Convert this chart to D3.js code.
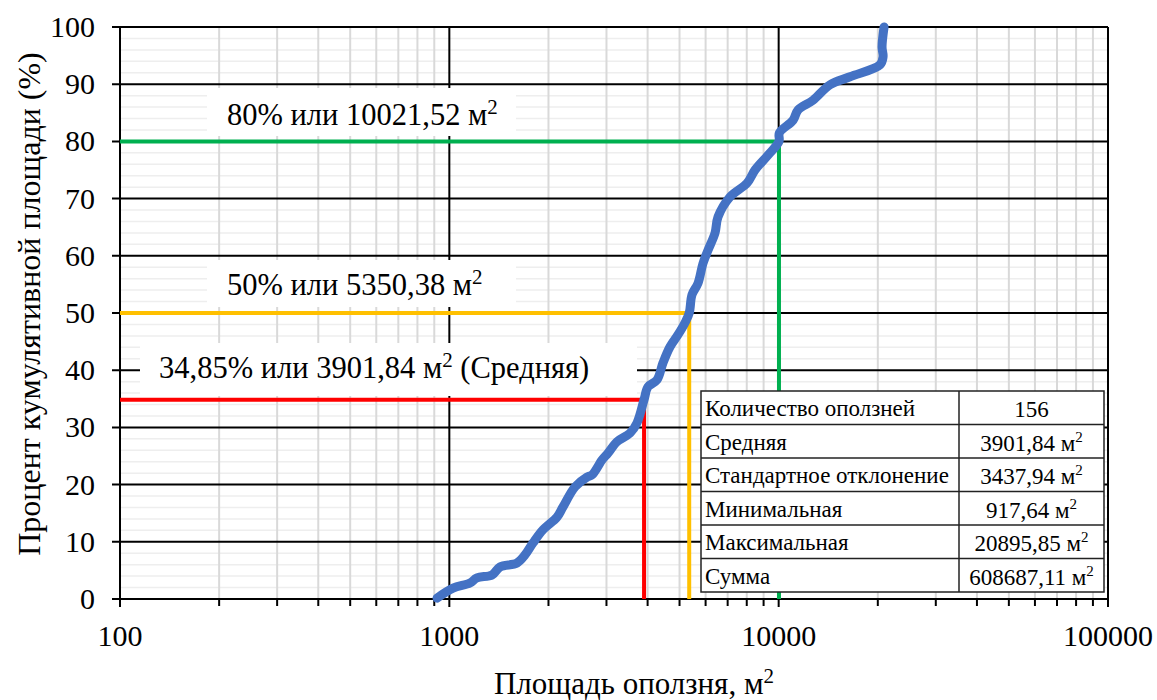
<!DOCTYPE html>
<html>
<head>
<meta charset="utf-8">
<script src="https://cdn.jsdelivr.net/npm/d3@7"></script>
<style>
  html, body { margin: 0; padding: 0; background: #fff; }
  svg { display: block; }
  text { font-family: "Liberation Serif", "Times New Roman", serif; fill: #000; }
</style>
</head>
<body>
<svg id="chart" width="1157" height="700"></svg>
<script>
// ---- Data ----
const areas = [917.64, 1026, 1155, 1213, 1348, 1425, 1605, 1697, 1795, 1925, 2123, 2214, 2408, 2618, 2712, 2908, 3032, 3229, 3537, 3715, 3901.84, 4011, 4271, 4455, 4679, 4948, 5195, 5350.38, 5456, 5690, 5893, 6103, 6408, 6544, 7117, 8015, 8475, 9282, 10021.52, 10050, 11058, 11448, 12716, 14320, 16470, 20310, 20750, 20600, 20895.85];
const cumPercent = [0.15, 1.9, 2.8, 3.7, 4.2, 5.6, 6.3, 7.7, 9.8, 12.1, 14.3, 16.1, 19.6, 21.3, 21.7, 24.3, 25.5, 27.5, 29.0, 30.8, 34.85, 37.1, 38.3, 41.3, 44.1, 46.2, 48.3, 50, 53.2, 55.2, 58.7, 61.0, 64.0, 66.8, 70.3, 72.7, 75.0, 77.6, 80, 81.5, 83.7, 85.5, 87.2, 89.9, 91.3, 93.4, 94.8, 96.5, 100];

const xTickValues = [100, 1000, 10000, 100000];
const xTickLabels = ["100", "1000", "10000", "100000"];
const yTickValues = [0, 10, 20, 30, 40, 50, 60, 70, 80, 90, 100];

const refPercent = [80, 50, 34.85];
const refArea = [10021.52, 5350.38, 3901.84];
const refColors = ["#00b050", "#ffc000", "#ff0000"];
const refLabelMain = ["80% или 10021,52 м", "50% или 5350,38 м", "34,85% или 3901,84 м"];
const refLabelTail = ["", "", " (Средняя)"];

const tableLabels = ["Количество оползней", "Средняя", "Стандартное отклонение", "Минимальная", "Максимальная", "Сумма"];
const tableValues = ["156", "3901,84 м", "3437,94 м", "917,64 м", "20895,85 м", "608687,11 м"];
const tableSup = [false, true, true, true, true, true];

const xTitle = "Площадь оползня, м";
const yTitle = "Процент кумулятивной площади (%)";

// ---- Layout ----
const svg = d3.select("#chart");
const L = 120, R = 1108, T = 27, B = 599;
const x = d3.scaleLog().domain([100, 100000]).range([L, R]);
const y = d3.scaleLinear().domain([0, 100]).range([B, T]);

// minor values
const minorX = [];
[100, 1000, 10000].forEach(d => { for (let k = 2; k <= 9; k++) minorX.push(d * k); });
const minorY = d3.range(0, 101, 2).filter(v => v % 10 !== 0);

const grid = svg.append("g");
grid.selectAll(".hmin").data(minorY).join("line")
  .attr("x1", L).attr("x2", R).attr("y1", d => y(d)).attr("y2", d => y(d))
  .attr("stroke", "#eeeeee").attr("stroke-width", 1.5);
grid.selectAll(".vmin").data(minorX).join("line")
  .attr("x1", d => x(d)).attr("x2", d => x(d)).attr("y1", T).attr("y2", B)
  .attr("stroke", "#d9d9d9").attr("stroke-width", 2);
grid.selectAll(".hmaj").data(yTickValues).join("line")
  .attr("x1", L - 8).attr("x2", R).attr("y1", d => y(d)).attr("y2", d => y(d))
  .attr("stroke", "#000").attr("stroke-width", 2);
grid.selectAll(".vmaj").data(xTickValues).join("line")
  .attr("x1", d => x(d)).attr("x2", d => x(d)).attr("y1", T).attr("y2", B + 8)
  .attr("stroke", "#000").attr("stroke-width", 2);
grid.selectAll(".xminTick").data(minorX).join("line")
  .attr("x1", d => x(d)).attr("x2", d => x(d)).attr("y1", B).attr("y2", B + 7)
  .attr("stroke", "#000").attr("stroke-width", 2);

// axis tick labels
svg.append("g").selectAll("text").data(yTickValues).join("text")
  .attr("x", 95).attr("y", d => y(d) + 10)
  .attr("text-anchor", "end").attr("font-size", 30)
  .text(d => d);
svg.append("g").selectAll("text").data(xTickValues).join("text")
  .attr("x", d => x(d)).attr("y", 646)
  .attr("text-anchor", "middle").attr("font-size", 30)
  .text((d, i) => xTickLabels[i]);

// axis titles
const xt = svg.append("text").attr("x", 634).attr("y", 694).attr("text-anchor", "middle").attr("font-size", 31);
xt.append("tspan").text(xTitle);
xt.append("tspan").attr("dy", -11).attr("font-size", 21).text("2");

svg.append("text")
  .attr("transform", "translate(40,304) rotate(-90)")
  .attr("text-anchor", "middle").attr("font-size", 32)
  .text(yTitle);

// reference lines
refPercent.forEach((p, i) => {
  svg.append("path")
    .attr("d", `M${L},${y(p)}H${x(refArea[i])}V${B}`)
    .attr("fill", "none").attr("stroke", refColors[i]).attr("stroke-width", 4);
});

// curve
const line = d3.line().x((d, i) => x(areas[i])).y((d, i) => y(cumPercent[i])).curve(d3.curveCatmullRom.alpha(0.5));
svg.append("path").datum(areas)
  .attr("d", line)
  .attr("fill", "none").attr("stroke", "#4472c4").attr("stroke-width", 9)
  .attr("stroke-linecap", "round").attr("stroke-linejoin", "round");

// label boxes
const boxes = [
  { x0: 207, x1: 516, y0: 88, y1: 136, tx: 227, ty: 125 },
  { x0: 207, x1: 516, y0: 260, y1: 307, tx: 227, ty: 295 },
  { x0: 140, x1: 637, y0: 343, y1: 396, tx: 159, ty: 378 }
];
boxes.forEach((b, i) => {
  svg.append("rect").attr("x", b.x0).attr("y", b.y0).attr("width", b.x1 - b.x0).attr("height", b.y1 - b.y0).attr("fill", "#fff");
  const t = svg.append("text").attr("x", b.tx).attr("y", b.ty).attr("font-size", 30.5);
  t.append("tspan").text(refLabelMain[i]);
  t.append("tspan").attr("dy", -11).attr("font-size", 21).text("2");
  if (refLabelTail[i]) t.append("tspan").attr("dy", 11).attr("font-size", 30.5).text(refLabelTail[i]);
});

// statistics table
const tx0 = 701, tx1 = 1104, tcol = 959, ty0 = 391, rowH = 33.5;
const tg = svg.append("g");
tg.append("rect").attr("x", tx0).attr("y", ty0).attr("width", tx1 - tx0).attr("height", rowH * tableLabels.length)
  .attr("fill", "#fff").attr("stroke", "#222").attr("stroke-width", 1.5);
tableLabels.forEach((lab, i) => {
  const yy = ty0 + i * rowH;
  if (i > 0) tg.append("line").attr("x1", tx0).attr("x2", tx1).attr("y1", yy).attr("y2", yy).attr("stroke", "#222").attr("stroke-width", 1.5);
  tg.append("text").attr("x", tx0 + 4).attr("y", yy + 25).attr("font-size", 23).text(lab);
  const vt = tg.append("text").attr("x", (tcol + tx1) / 2).attr("y", yy + 26).attr("text-anchor", "middle").attr("font-size", 23);
  vt.append("tspan").text(tableValues[i]);
  if (tableSup[i]) vt.append("tspan").attr("dy", -9).attr("font-size", 15).text("2");
});
tg.append("line").attr("x1", tcol).attr("x2", tcol).attr("y1", ty0).attr("y2", ty0 + rowH * tableLabels.length).attr("stroke", "#222").attr("stroke-width", 1.5);
</script>
</body>
</html>
